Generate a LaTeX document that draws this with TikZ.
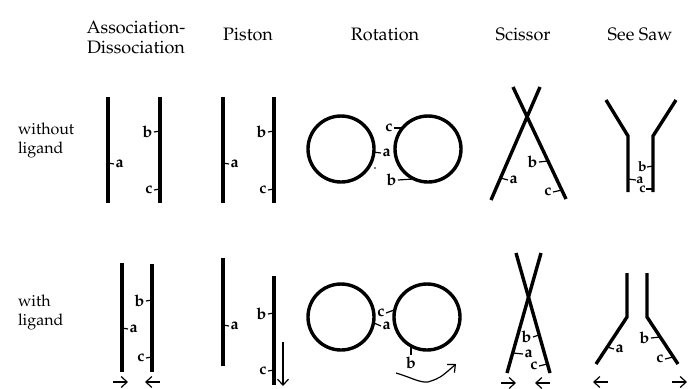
\documentclass[tikz,border=0pt]{standalone}
\usepackage[T1]{fontenc}
\usepackage{mathpazo}
\usepackage{tikz}
\usetikzlibrary{arrows.meta,positioning,calc}

\tikzset{
	bar/.style={line width=1.7pt},
	tick/.style={line width=0.6pt},
	lbl/.style={font=\fontsize{8}{8}\selectfont\bfseries, inner sep=0.6pt},
	small/.style={font=\fontsize{7}{7}\selectfont\bfseries, inner sep=0pt},
	head/.style={font=\fontsize{9}{10}\selectfont, align=center},
	side/.style={font=\fontsize{8}{9.5}\selectfont, align=left, anchor=west},
	move/.style={line width=0.6pt, -{Straight Barb[length=3pt,width=5.5pt]}}
}

\begin{document}
\begin{tikzpicture}[x=0.5pt,y=-0.5pt]
	\useasboundingbox (0,0) rectangle (696,388);
	% column and row titles
	\node[head] (assoc) at (136,37) {Association-\\Dissociation};
	\node[head] (piston) at (248,34) {Piston};
	\node[head] (rot) at (385,34) {Rotation};
	\node[head] (sciss) at (523,34) {Scissor};
	\node[head] (seesaw) at (640,34) {See Saw};
	\node[side] (without) at (11,140) {without\\ligand};
	\node[side] (with) at (11,312) {with\\ligand};

	% association-dissociation
	\draw[bar] (108,97) -- (108,203);
	\draw[bar] (160,97) -- (160,203);
	\node[lbl,anchor=west] (aa1) at (114,164) {a};
	\node[lbl,anchor=east] (ab1) at (154,132) {b};
	\node[lbl,anchor=east] (ac1) at (154,190) {c};
	\draw[tick] (108,163) -- (aa1.west);
	\draw[tick] (160,131) -- (ab1.east);
	\draw[tick] (160,189) -- (ac1.east);

	\draw[bar] (122,263) -- (122,372);
	\draw[bar] (152,264) -- (152,372);
	\node[lbl,anchor=west] (aa2) at (128,329) {a};
	\node[lbl,anchor=east] (ab2) at (146,301) {b};
	\node[lbl,anchor=east] (ac2) at (146,358) {c};
	\draw[tick] (122,328) -- (aa2.west);
	\draw[tick] (152,300) -- (ab2.east);
	\draw[tick] (152,357) -- (ac2.east);
	\coordinate (al1) at (113,382);
	\coordinate (al2) at (128,382);
	\coordinate (ar1) at (160,382);
	\coordinate (ar2) at (145,382);
	\draw[move] (al1) -- (al2);
	\draw[move] (ar1) -- (ar2);

	% piston
	\draw[bar] (223,97) -- (223,203);
	\draw[bar] (274,97) -- (274,203);
	\node[lbl,anchor=west] (pa1) at (229,164) {a};
	\node[lbl,anchor=east] (pb1) at (268,132) {b};
	\node[lbl,anchor=east] (pc1) at (268,190) {c};
	\draw[tick] (223,163) -- (pa1.west);
	\draw[tick] (274,131) -- (pb1.east);
	\draw[tick] (274,189) -- (pc1.east);

	\draw[bar] (223,258) -- (223,366);
	\draw[bar] (274,276) -- (274,385);
	\node[lbl,anchor=west] (pa2) at (229,326) {a};
	\node[lbl,anchor=east] (pb2) at (268,314) {b};
	\node[lbl,anchor=east] (pc2) at (268,371) {c};
	\draw[tick] (223,325) -- (pa2.west);
	\draw[tick] (274,313) -- (pb2.east);
	\draw[tick] (274,370) -- (pc2.east);
	\coordinate (pd1) at (283,342);
	\coordinate (pd2) at (283,386);
	\draw[move] (pd1) -- (pd2);

	% rotation
	\draw[bar] (341,149) circle (33);
	\draw[bar] (428,149) circle (33);
	\node[lbl,anchor=east] (rc1) at (394,128) {c};
	\node[lbl,anchor=west] (ra1) at (381,153) {a};
	\node[lbl,anchor=east] (rb1) at (398,180) {b};
	\draw[tick] (rc1.east) -- (402,128);
	\draw[tick] (373,152) -- (ra1.west);
	\draw[tick] (rb1.east) -- (413,179);
	\fill (375,168) circle (0.8);

	\draw[bar] (341,317) circle (33);
	\draw[bar] (427,317) circle (33);
	\node[lbl,anchor=east] (rc2) at (386,313) {c};
	\node[lbl,anchor=west] (ra2) at (381,326) {a};
	\node[lbl,anchor=north] (rb2) at (411,355) {b};
	\draw[tick] (rc2.east) -- (394,310);
	\draw[tick] (374,323) -- (ra2.west);
	\draw[tick] (rb2.north) -- (411,347);
	\coordinate (rt1) at (396,373);
	\coordinate (rt2) at (428,382);
	\coordinate (rt3) at (456,364);
	\draw[move] (rt1) .. controls (410,377) and (420,383) .. (rt2) .. controls (440,378) .. (rt3);

	% scissor
	\draw[bar] (513,87) -- (566,199);
	\draw[bar] (540,87) -- (491,200);
	\node[lbl,anchor=west] (sa1) at (508,180) {a};
	\node[lbl,anchor=east] (sb1) at (539,162) {b};
	\node[lbl,anchor=east] (sc1) at (553,192) {c};
	\draw[tick] (500.5,178) -- (sa1.west);
	\draw[tick] (sb1.east) -- (548,161);
	\draw[tick] (sc1.east) -- (562,190);

	\draw[bar] (516,253) -- (550,373);
	\draw[bar] (541,253) -- (507,373);
	\node[lbl,anchor=east] (sb2) at (533,337) {b};
	\node[lbl,anchor=west] (sa2) at (523,354) {a};
	\node[lbl,anchor=east] (sc2) at (539,366) {c};
	\draw[tick] (sb2.east) -- (539,335);
	\draw[tick] (513,353) -- (sa2.west);
	\draw[tick] (sc2.east) -- (547,364);
	\coordinate (sl1) at (501,383);
	\coordinate (sl2) at (516,383);
	\coordinate (sr1) at (550,383);
	\coordinate (sr2) at (535,383);
	\draw[move] (sl1) -- (sl2);
	\draw[move] (sr1) -- (sr2);

	% see saw
	\draw[bar] (606,100) -- (628,136) -- (628,192);
	\draw[bar] (676,100) -- (653,136) -- (653,192);
	\node[small,anchor=east] (wb1) at (647,167) {b};
	\node[small,anchor=west] (wa1) at (636,180) {a};
	\node[small,anchor=east] (wc1) at (646,189) {c};
	\draw[tick] (wb1.east) -- (653,166);
	\draw[tick] (628,179) -- (wa1.west);
	\draw[tick] (wc1.east) -- (653,189);

	\draw[bar] (627,273) -- (627,317) -- (596,364);
	\draw[bar] (647,273) -- (647,317) -- (678,364);
	\node[lbl,anchor=west] (wa2) at (614,349) {a};
	\node[lbl,anchor=east] (wb2) at (651,338) {b};
	\node[lbl,anchor=east] (wc2) at (665,359) {c};
	\draw[tick] (607,347) -- (wa2.west);
	\draw[tick] (wb2.east) -- (660,337);
	\draw[tick] (wc2.east) -- (673,357);
	\coordinate (wl1) at (608,382);
	\coordinate (wl2) at (593,382);
	\coordinate (wr1) at (672,382);
	\coordinate (wr2) at (687,382);
	\draw[move] (wl1) -- (wl2);
	\draw[move] (wr1) -- (wr2);
\end{tikzpicture}
\end{document}
